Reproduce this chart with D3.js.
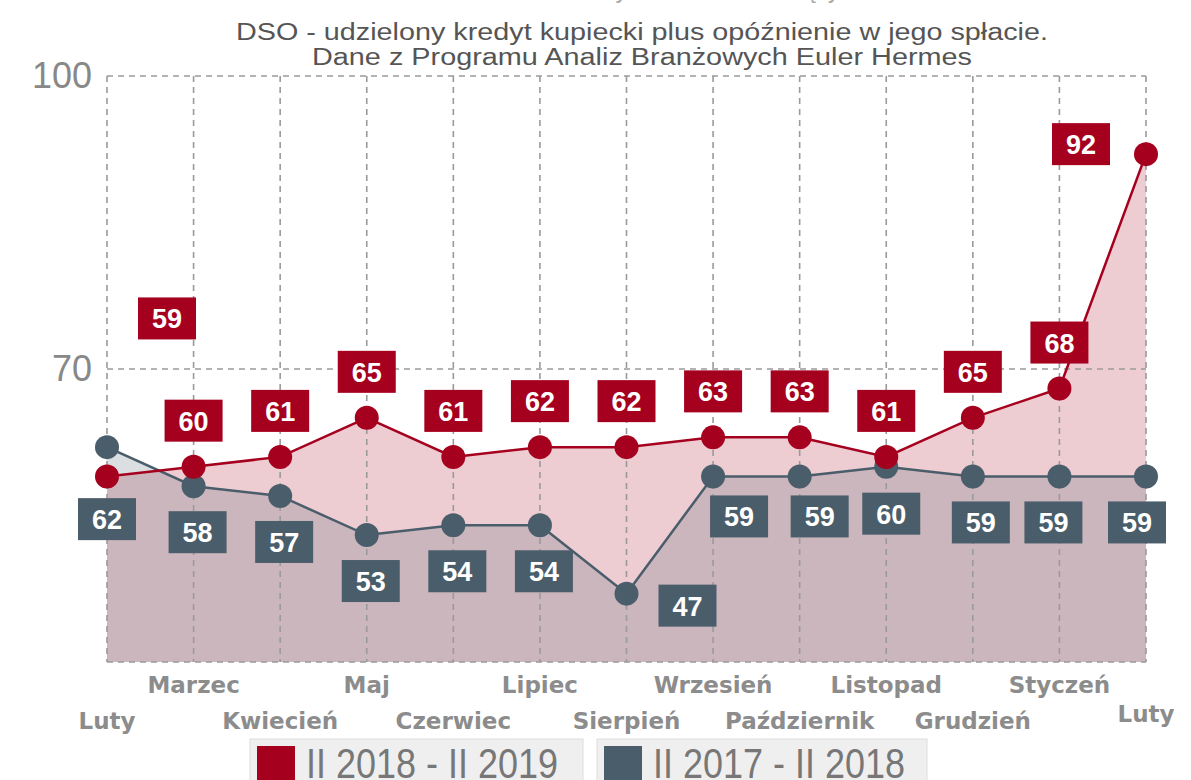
<!DOCTYPE html>
<html><head><meta charset="utf-8">
<script src="https://cdn.jsdelivr.net/npm/d3@7/dist/d3.min.js"></script>
<style>body{margin:0;background:#fff}svg{display:block}</style>
</head><body>
<svg id="c" width="1191" height="780"></svg>
<script>
const months = ["Luty","Marzec","Kwiecień","Maj","Czerwiec","Lipiec","Sierpień","Wrzesień","Październik","Listopad","Grudzień","Styczeń","Luty"];
const series2019 = [59,60,61,65,61,62,62,63,63,61,65,68,92];
const series2018 = [62,58,57,53,54,54,47,59,59,60,59,59,59];
const yTicks = [100,70];
const legendLabels = ["II 2018 - II 2019","II 2017 - II 2018"];
const titleText = "Średnie DSO w branży - wskaźnik rosnący";
const subtitle = ["DSO - udzielony kredyt kupiecki plus opóźnienie w jego spłacie.","Dane z Programu Analiz Branżowych Euler Hermes"];

const RED = "#a6001f", GRAY = "#4a5d6b";
const svg = d3.select("#c");
const idx = d3.range(months.length);
const x = d3.scalePoint().domain(idx).range([107,1146]);
const y = d3.scaleLinear().domain([40,100]).range([662,76]);

// title (cut off at top, as in the reference)
svg.append("text").attr("x",610).attr("y",-2).attr("text-anchor","middle")
  .attr("font-family","Liberation Sans, Arial").attr("font-size",26).attr("fill","#aaa")
  .attr("textLength",460).attr("lengthAdjust","spacingAndGlyphs").text(titleText);
subtitle.forEach((t,i)=>{
  svg.append("text").attr("x",642).attr("y",40+i*25).attr("text-anchor","middle")
    .attr("font-family","Liberation Sans, Arial").attr("font-size",23).attr("fill","#555")
    .attr("textLength", i===0?812:660).attr("lengthAdjust","spacingAndGlyphs").text(t);
});

// areas
const area = data => d3.area().x((d,i)=>x(i)).y0(y(40)).y1(d=>y(d))(data);
svg.append("path").attr("d",area(series2019)).attr("fill",RED).attr("fill-opacity",0.2);
svg.append("path").attr("d",area(series2018)).attr("fill",GRAY).attr("fill-opacity",0.2);

// grid
const g = svg.append("g").attr("stroke","#9a9a9a").attr("stroke-width",1.6).attr("stroke-dasharray","6,5");
idx.forEach(i=>g.append("line").attr("x1",x(i)).attr("x2",x(i)).attr("y1",y(100)).attr("y2",y(40)));
[100,70,40].forEach(v=>g.append("line").attr("x1",x(0)).attr("x2",x(12)).attr("y1",y(v)).attr("y2",y(v)));

// y tick labels
yTicks.forEach(v=>svg.append("text").attr("x",92).attr("y",y(v)+12).attr("text-anchor","end")
  .attr("font-family","Liberation Sans, Arial").attr("font-size",36).attr("fill","#888").text(v));

// lines & dots
const line = d3.line().x((d,i)=>x(i)).y(d=>y(d));
svg.append("path").attr("d",line(series2018)).attr("fill","none").attr("stroke",GRAY).attr("stroke-width",2.5);
svg.append("path").attr("d",line(series2019)).attr("fill","none").attr("stroke",RED).attr("stroke-width",2.5);
svg.selectAll(".dg").data(series2018).join("circle").attr("cx",(d,i)=>x(i)).attr("cy",d=>y(d)).attr("r",12).attr("fill",GRAY);
svg.selectAll(".dr").data(series2019).join("circle").attr("cx",(d,i)=>x(i)).attr("cy",d=>y(d)).attr("r",12).attr("fill",RED);

// labels
function label(cx,cy,val,color){
  svg.append("rect").attr("x",cx-29).attr("y",cy-21).attr("width",58).attr("height",42).attr("fill",color);
  svg.append("text").attr("x",cx).attr("y",cy+10).attr("text-anchor","middle")
    .attr("font-family","Liberation Sans, Arial").attr("font-weight","bold").attr("font-size",27).attr("fill","#fff").text(val);
}
series2019.forEach((v,i)=>{
  let cx=x(i), cy=y(v)-46;
  if(i===0){cx=x(0)+60; cy=y(v)-158;}
  if(i===12){cx=x(i)-65; cy=y(v)-10;}
  label(cx,cy,v,RED);
});
series2018.forEach((v,i)=>{
  let cx=x(i)+4, cy=y(v)+46;
  if(i===0){cx=x(0); cy=y(v)+72;}
  if(i===6){cx=x(i)+61; cy=y(v)+12;}
  if(i>=7){cx=x(i)+26-(i-7)*6; cy=y(v)+40;}
  if(i===9){cx=x(i)+5; cy=y(v)+47;}
  if(i>=10){cy=y(v)+46;}
  if(i===10) cx=x(i)+8;
  if(i===11) cx=x(i)-6;
  if(i===12) cx=x(i)-9;
  label(cx,cy,v,GRAY);
});

// x labels
idx.forEach(i=>{
  const odd = i%2===1;
  svg.append("text").attr("x",x(i)).attr("y", odd?693:(i===12?722:729)).attr("text-anchor","middle")
    .attr("font-family","DejaVu Sans, Verdana").attr("font-weight","bold").attr("font-size",23).attr("fill","#8c8c8c").text(months[i]);
});

// legend
const lg = [{x:250,w:333,c:RED},{x:597,w:330,c:GRAY}];
lg.forEach((l,i)=>{
  svg.append("rect").attr("x",l.x).attr("y",739).attr("width",l.w).attr("height",50).attr("fill","#efefef").attr("stroke","#ddd");
  svg.append("rect").attr("x",l.x+7).attr("y",746).attr("width",38).attr("height",40).attr("fill",l.c);
  svg.append("text").attr("x",l.x+56).attr("y",778).attr("font-family","Liberation Sans, Arial").attr("font-size",42).attr("fill","#777")
    .attr("textLength",252).attr("lengthAdjust","spacingAndGlyphs").text(legendLabels[i]);
});
</script>
</body></html>
